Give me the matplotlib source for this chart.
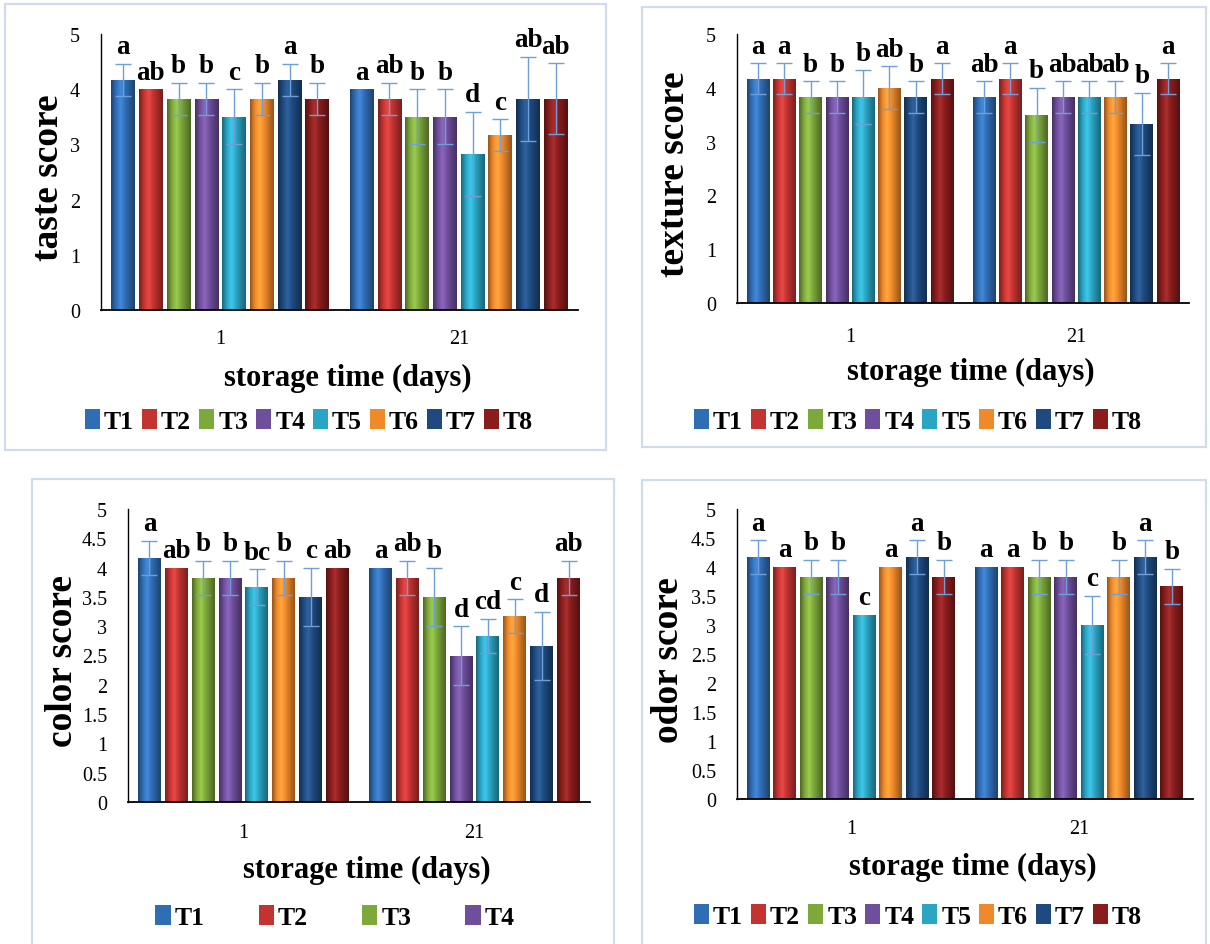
import numpy as np
import matplotlib
matplotlib.use("Agg")
import matplotlib.pyplot as plt
from matplotlib.patches import Rectangle, Patch
from matplotlib.colors import LinearSegmentedColormap, to_rgb
import matplotlib.transforms as mtransforms

# ---------------- data ----------------
treatments = ["T1", "T2", "T3", "T4", "T5", "T6", "T7", "T8"]
days = ["1", "21"]

taste_d1 = [4.17, 4.00, 3.83, 3.83, 3.50, 3.83, 4.17, 3.83]
taste_d21 = [4.00, 3.83, 3.50, 3.50, 2.83, 3.17, 3.83, 3.83]
taste_err_d1 = [0.29, 0.0, 0.29, 0.29, 0.50, 0.29, 0.29, 0.29]
taste_err_d21 = [0.0, 0.29, 0.50, 0.50, 0.76, 0.29, 0.76, 0.64]
taste_let_d1 = ["a", "ab", "b", "b", "c", "b", "a", "b"]
taste_let_d21 = ["a", "ab", "b", "b", "d", "c", "ab", "ab"]

texture_d1 = [4.17, 4.17, 3.83, 3.83, 3.83, 4.00, 3.83, 4.17]
texture_d21 = [3.83, 4.17, 3.50, 3.83, 3.83, 3.83, 3.33, 4.17]
texture_err_d1 = [0.29, 0.29, 0.29, 0.29, 0.50, 0.40, 0.29, 0.29]
texture_err_d21 = [0.29, 0.29, 0.50, 0.29, 0.29, 0.29, 0.58, 0.29]
texture_let_d1 = ["a", "a", "b", "b", "b", "ab", "b", "a"]
texture_let_d21 = ["ab", "a", "b", "ab", "ab", "ab", "b", "a"]

color_d1 = [4.17, 4.00, 3.83, 3.83, 3.67, 3.83, 3.50, 4.00]
color_d21 = [4.00, 3.83, 3.50, 2.50, 2.83, 3.17, 2.67, 3.83]
color_err_d1 = [0.29, 0.0, 0.29, 0.29, 0.30, 0.29, 0.50, 0.0]
color_err_d21 = [0.0, 0.29, 0.50, 0.50, 0.29, 0.29, 0.58, 0.29]
color_let_d1 = ["a", "ab", "b", "b", "bc", "b", "c", "ab"]
color_let_d21 = ["a", "ab", "b", "d", "cd", "c", "d", "ab"]

odor_d1 = [4.17, 4.00, 3.83, 3.83, 3.17, 4.00, 4.17, 3.83]
odor_d21 = [4.00, 4.00, 3.83, 3.83, 3.00, 3.83, 4.17, 3.67]
odor_err_d1 = [0.29, 0.0, 0.29, 0.29, 0.0, 0.0, 0.29, 0.29]
odor_err_d21 = [0.0, 0.0, 0.29, 0.29, 0.50, 0.29, 0.29, 0.30]
odor_let_d1 = ["a", "a", "b", "b", "c", "a", "a", "b"]
odor_let_d21 = ["a", "a", "b", "b", "c", "b", "a", "b"]

bar_colors = ["#2F6DB5", "#C33330", "#7DA83A", "#6F4E9C",
              "#2AA5C4", "#F0892A", "#1E4A80", "#8A1C1C"]

# ---------------- layout ----------------
W, H = 1210, 945
fig = plt.figure(figsize=(W / 100, H / 100), dpi=100)
fig.patch.set_facecolor("white")

SERIF = ["Liberation Serif", "DejaVu Serif"]


def fx(px):
    return px / W


def fy(py):
    return 1 - py / H


def panel_box(x0, y0, x1, y1):
    fig.add_artist(Rectangle((fx(x0), fy(y1)), fx(x1) - fx(x0), fy(y0) - fy(y1),
                             transform=fig.transFigure, fill=False,
                             edgecolor="#CFDCEE", linewidth=1.6, zorder=0))


def shade_cmap(c):
    r = np.array(to_rgb(c))
    dark = r * 0.62
    light = np.clip(r * 1.12 + 0.06, 0, 1)
    return LinearSegmentedColormap.from_list("b", [dark, r, light, r, r * 0.8, dark])


def make_panel(box, axpx, d1, d21, e1, e21, l1, l21, ylabel, ystep,
               ylab_x, xt_y, xl_y, leg_y, leg_n, leg_cs, leg_cx):
    panel_box(*box)
    l, r, t, b = axpx
    ax = fig.add_axes([fx(l), fy(b), fx(r) - fx(l), fy(t) - fy(b)])
    ax.set_facecolor("none")
    pitch = 0.1163
    width = 0.0995
    grad = np.linspace(0, 1, 64).reshape(1, -1)
    for di, (vals, errs, lets) in enumerate([(d1, e1, l1), (d21, e21, l21)]):
        for i, (v, e, lt) in enumerate(zip(vals, errs, lets)):
            xc = di + (i - 3.5) * pitch
            bar = ax.bar(xc, v, width, color=bar_colors[i], edgecolor="none", zorder=2)[0]
            im = ax.imshow(grad, extent=(bar.get_x(), bar.get_x() + bar.get_width(), 0, bar.get_height()),
                           cmap=shade_cmap(bar_colors[i]), aspect="auto", zorder=2.1,
                           interpolation="bilinear")
            im.set_clip_path(bar)
            if e > 0:
                ax.errorbar(xc, v, yerr=e, fmt="none", ecolor="#6E9FD6", elinewidth=1.0,
                            capsize=6, capthick=1.0, zorder=3)
            ax.text(xc, v + e + 0.08, lt, ha="center", va="bottom", fontsize=19.5,
                    fontweight="bold", family=SERIF, zorder=4)
    ax.set_xlim(-0.5, 1.5)
    ax.set_ylim(0, 5)
    ax.set_yticks(np.arange(0, 5.0001, ystep))
    ax.yaxis.set_major_formatter(matplotlib.ticker.FuncFormatter(
        lambda v, p: ("%g" % v)))
    ax.set_xticks([])
    for s in ["top", "right"]:
        ax.spines[s].set_visible(False)
    ax.spines["left"].set_linewidth(1.0)
    ax.spines["bottom"].set_linewidth(1.3)
    ax.tick_params(axis="y", length=0, pad=15, labelsize=14.5)
    for lab in ax.get_yticklabels():
        lab.set_family(SERIF)
    trans = mtransforms.blended_transform_factory(ax.transData, fig.transFigure)
    for di, d in enumerate(days):
        ax.text(di, fy(xt_y), d, transform=trans, ha="center", va="center",
                fontsize=14.5, family=SERIF)
    cx = (l + r) / 2
    fig.text(fx(cx + 8), fy(xl_y), "storage time (days)", ha="center", va="center",
             fontsize=22, fontweight="bold", family=SERIF)
    fig.text(fx(ylab_x), fy((t + b) / 2 + 5), ylabel, ha="center", va="center",
             rotation=90, fontsize=27, fontweight="bold", family=SERIF)
    handles = [Patch(facecolor=bar_colors[i], edgecolor="none") for i in range(leg_n)]
    fig.legend(handles, treatments[:leg_n], loc="center",
               bbox_to_anchor=(fx(leg_cx), fy(leg_y)), ncol=leg_n, frameon=False,
               handlelength=0.6, handleheight=0.8, handletextpad=0.15,
               columnspacing=leg_cs, borderaxespad=0,
               prop={"family": SERIF, "weight": "bold", "size": 18.5})
    return ax


make_panel((5, 5, 606, 451), (101, 578, 35, 311),
           taste_d1, taste_d21, taste_err_d1, taste_err_d21, taste_let_d1, taste_let_d21,
           "taste score", 1, 48, 340, 378, 422, 8, 0.3, 309)
make_panel((642, 8, 1206, 448), (737, 1189, 35, 304),
           texture_d1, texture_d21, texture_err_d1, texture_err_d21, texture_let_d1, texture_let_d21,
           "texture score", 1, 675, 337, 372, 422, 8, 0.3, 918)
make_panel((32, 480, 614, 952), (128, 590, 510, 803),
           color_d1, color_d21, color_err_d1, color_err_d21, color_let_d1, color_let_d21,
           "color score", 0.5, 62, 833, 870, 918, 4, 2.1, 335)
make_panel((642, 481, 1206, 952), (737, 1193, 510, 800),
           odor_d1, odor_d21, odor_err_d1, odor_err_d21, odor_let_d1, odor_let_d21,
           "odor score", 0.5, 668, 830, 867, 917, 8, 0.3, 918)

fig.savefig("out.png", dpi=100)
